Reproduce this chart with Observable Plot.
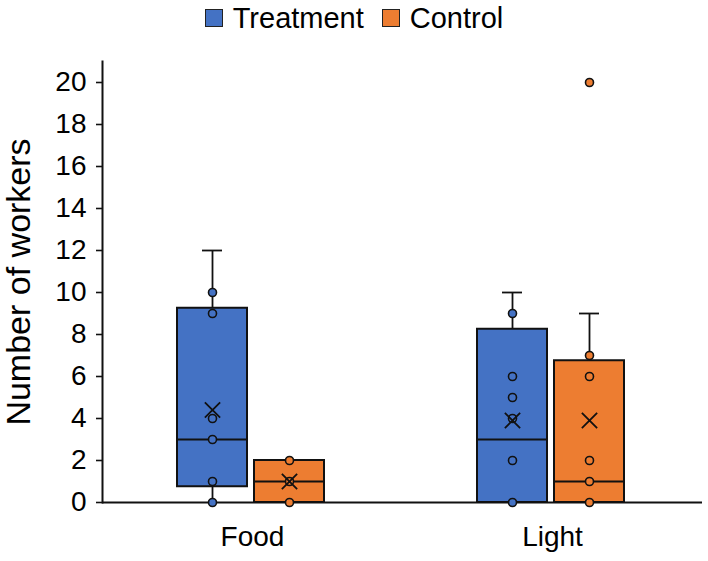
<!DOCTYPE html>
<html>
<head>
<meta charset="utf-8">
<script src="https://cdn.jsdelivr.net/npm/d3@7"></script>
<script src="https://cdn.jsdelivr.net/npm/@observablehq/plot@0.6"></script>
<style>
  body { margin: 0; background: #fff; font-family: "Liberation Sans", Arial, sans-serif; }
  #legend { height: 36px; display: flex; justify-content: center; align-items: center; }
  .item { display: flex; align-items: center; font-size: 29px; color: #000; margin: 0 9px; }
  .sw { width: 16px; height: 16px; border: 1.5px solid #222; margin-right: 10px; }
  [aria-label="y-axis label"], [aria-label="y-axis label"] text { font-size: 34px !important; }
</style>
</head>
<body>
<div id="legend"></div>
<div id="chart"></div>
<script>
// ---- data ----
const groups = ["Food", "Light"];
const series = ["Treatment", "Control"];
const colors = ["#4472C4", "#ED7D31"];
const yTicks = [0, 2, 4, 6, 8, 10, 12, 14, 16, 18, 20];

const boxGroup    = ["Food", "Food", "Light", "Light"];
const boxSeries   = ["Treatment", "Control", "Treatment", "Control"];
const whiskerLow  = [0, 0, 0, 0];
const quartile1   = [0.75, 0, 0, 0];
const medianVal   = [3, 1, 3, 1];
const quartile3   = [9.25, 2, 8.25, 6.75];
const whiskerHigh = [12, 2, 10, 9];
const meanVal     = [4.4, 1, 3.9, 3.9];
const pointValues = [
  [10, 9, 4, 3, 1, 0],
  [2, 1, 0],
  [9, 6, 5, 4, 2, 0],
  [20, 7, 6, 2, 1, 0]
];

// ---- tables ----
const boxes = boxGroup.map((g, i) => ({
  group: g, series: boxSeries[i],
  lo: whiskerLow[i], q1: quartile1[i], median: medianVal[i],
  q3: quartile3[i], hi: whiskerHigh[i], mean: meanVal[i]
}));
const pts = pointValues.flatMap((arr, i) =>
  arr.map(v => ({group: boxGroup[i], series: boxSeries[i], value: v})));

// ---- legend ----
const legend = document.getElementById("legend");
series.forEach((s, i) => {
  const it = document.createElement("div");
  it.className = "item";
  const sw = document.createElement("span");
  sw.className = "sw";
  sw.style.background = colors[i];
  it.appendChild(sw);
  it.appendChild(document.createTextNode(s));
  legend.appendChild(it);
});

// ---- chart ----
const ink = "#111";
const chart = Plot.plot({
  width: 708,
  height: 525,
  marginLeft: 102,
  marginRight: 6,
  marginTop: 25,
  marginBottom: 59,
  style: {fontFamily: "'Liberation Sans', Arial, sans-serif", color: "#000", background: "#fff"},
  fx: {domain: groups, padding: 0, label: null},
  x: {domain: series, paddingInner: 0.09, paddingOuter: 0.97, align: 0.49, axis: null},
  y: {domain: [0, 21]},
  color: {domain: series, range: colors},
  marks: [
    Plot.ruleX(boxes, {fx: "group", x: "series", y1: "lo", y2: "hi", stroke: ink, strokeWidth: 1.8}),
    Plot.tickY(boxes, {fx: "group", x: "series", y: "hi", stroke: ink, strokeWidth: 1.8, insetLeft: 25, insetRight: 25}),
    Plot.barY(boxes, {fx: "group", x: "series", y1: "q1", y2: "q3", fill: "series", stroke: ink, strokeWidth: 2}),
    Plot.tickY(boxes, {fx: "group", x: "series", y: "median", stroke: ink, strokeWidth: 1.8}),
    Plot.ruleY([0], {stroke: ink, strokeWidth: 2}),
    Plot.dot(pts, {fx: "group", x: "series", y: "value", r: 4, fill: "series", stroke: ink, strokeWidth: 1.6}),
    Plot.dot(boxes, {fx: "group", x: "series", y: "mean", symbol: "times", r: 7, stroke: ink, strokeWidth: 1.8}),
    Plot.frame({anchor: "left", facetAnchor: "left", stroke: ink, strokeWidth: 2}),
    Plot.axisY(yTicks, {tickSize: 6, tickPadding: 10, fontSize: 28, stroke: ink, strokeWidth: 1.6,
      label: "Number of workers", labelAnchor: "center", labelOffset: 97, labelArrow: "none"}),
    Plot.axisFx({anchor: "bottom", tickSize: 0, tickPadding: 24, fontSize: 28, label: null})
  ]
});
document.getElementById("chart").appendChild(chart);
</script>
</body>
</html>
